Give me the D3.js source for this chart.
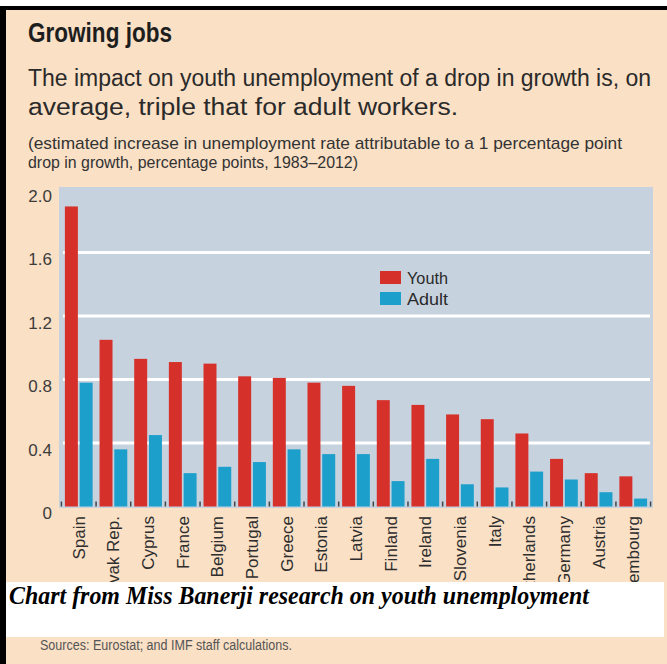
<!DOCTYPE html>
<html>
<head>
<meta charset="utf-8">
<script src="https://cdn.jsdelivr.net/npm/d3@7"></script>
<style>
  body { margin: 0; background: #fff; }
</style>
</head>
<body>
<svg id="mainsvg" width="667" height="664" font-family="'Liberation Sans', Arial, sans-serif"></svg>
<script>
const countries = ['Spain', 'Slovak Rep.', 'Cyprus', 'France', 'Belgium', 'Portugal', 'Greece', 'Estonia',
  'Latvia', 'Finland', 'Ireland', 'Slovenia', 'Italy', 'Netherlands', 'Germany', 'Austria', 'Luxembourg'];
const youth = [1.89, 1.05, 0.93, 0.91, 0.90, 0.82, 0.81, 0.78, 0.76, 0.67, 0.64, 0.58, 0.55, 0.46, 0.30, 0.21, 0.19];
const adult = [0.78, 0.36, 0.45, 0.21, 0.25, 0.28, 0.36, 0.33, 0.33, 0.16, 0.30, 0.14, 0.12, 0.22, 0.17, 0.09, 0.05];
const seriesNames = ['Youth', 'Adult'];
const yTicks = [0, 0.4, 0.8, 1.2, 1.6, 2.0];
const yTickLabels = ['0', '0.4', '0.8', '1.2', '1.6', '2.0'];

const title = 'Growing jobs';
const subtitle = ['The impact on youth unemployment of a drop in growth is, on',
  'average, triple that for adult workers.'];
const units = ['(estimated increase in unemployment rate attributable to a 1 percentage point',
  'drop in growth, percentage points, 1983\u20132012)'];
const caption = 'Chart from Miss Banerji research on youth unemployment';
const sources = 'Sources: Eurostat; and IMF staff calculations.';

const svg = d3.select('#mainsvg');
const width = +svg.attr('width');
const height = +svg.attr('height');
const colors = {Youth: '#d5312a', Adult: '#1c9fcb'};

// panel + black frame
svg.append('rect').attr('x', 6).attr('y', 10).attr('width', width - 6).attr('height', height - 10).attr('fill', '#fae0c5');
svg.append('rect').attr('x', 0).attr('y', 6).attr('width', width).attr('height', 4).attr('fill', '#000');
svg.append('rect').attr('x', 0).attr('y', 6).attr('width', 6).attr('height', height - 6).attr('fill', '#000');

// the original uses a condensed face, so text is squeezed to the measured width
function txt(str, x, y, size, opts = {}) {
  const t = svg.append('text').text(str)
    .attr('x', x).attr('y', y)
    .attr('font-size', size)
    .attr('fill', opts.fill || '#2a2a2a')
    .attr('font-weight', opts.weight || 'normal');
  if (opts.len) t.attr('textLength', opts.len).attr('lengthAdjust', 'spacingAndGlyphs');
  return t;
}

txt(title, 28, 42, 28, {weight: 'bold', fill: '#1e1e1e', len: 144});
txt(subtitle[0], 28, 86, 23, {len: 623, fill: '#2a2a2a'});
txt(subtitle[1], 28, 115, 23, {len: 430, fill: '#2a2a2a'});
txt(units[0], 28, 149, 17, {len: 594, fill: '#333'});
txt(units[1], 28, 168, 17, {len: 330, fill: '#333'});

// plot area
const plot = {left: 59, right: 653, top: 187, bottom: 508};
const zeroY = 506.5;

const xScale = d3.scaleBand()
  .domain(countries)
  .range([plot.left, plot.right])
  .paddingInner(0.2)
  .paddingOuter(0.17);

const xSub = d3.scaleBand()
  .domain(seriesNames)
  .range([0, xScale.bandwidth()])
  .paddingInner(0.12);

const yScale = d3.scaleLinear()
  .domain([0, 2])
  .range([zeroY, 189]);

svg.append('rect')
  .attr('x', plot.left).attr('y', plot.top)
  .attr('width', plot.right - plot.left).attr('height', plot.bottom - plot.top)
  .attr('fill', '#c7d2df');

// gridlines
svg.append('g').selectAll('line')
  .data(yTicks.filter(v => v > 0 && v < 2))
  .join('line')
  .attr('x1', plot.left + 4).attr('x2', plot.right - 3)
  .attr('y1', d => yScale(d)).attr('y2', d => yScale(d))
  .attr('stroke', '#fff').attr('stroke-width', 3);

// y axis labels
const yAxis = d3.axisLeft(yScale)
  .tickValues(yTicks)
  .tickSize(0)
  .tickPadding(0)
  .tickFormat((d, i) => yTickLabels[i]);
const yg = svg.append('g').attr('transform', 'translate(52,0)').call(yAxis)
  .attr('font-family', "'Liberation Sans', Arial, sans-serif")
  .attr('font-size', 17);
yg.select('.domain').remove();
yg.selectAll('text')
  .attr('fill', '#3c3c3c')
  .attr('dy', 12);

// bars
const rows = countries.map((c, i) => ({country: c, Youth: youth[i], Adult: adult[i]}));
const groups = svg.append('g').selectAll('g')
  .data(rows)
  .join('g')
  .attr('transform', d => `translate(${xScale(d.country)},0)`);

groups.selectAll('rect')
  .data(d => seriesNames.map(s => ({key: s, value: d[s]})))
  .join('rect')
  .attr('x', d => xSub(d.key))
  .attr('width', xSub.bandwidth())
  .attr('y', d => yScale(d.value))
  .attr('height', d => zeroY - yScale(d.value))
  .attr('fill', d => colors[d.key]);

// small ticks between groups
const step = xScale.step();
const bounds = countries.map(c => xScale(c) - step * xScale.paddingInner() / 2);
bounds.push(xScale(countries[countries.length - 1]) + xScale.bandwidth() + step * xScale.paddingInner() / 2);
svg.append('g').selectAll('line')
  .data(bounds)
  .join('line')
  .attr('x1', d => d).attr('x2', d => d)
  .attr('y1', zeroY - 5).attr('y2', zeroY)
  .attr('stroke', '#444').attr('stroke-width', 1.5);

// x labels, rotated
svg.append('g').selectAll('text')
  .data(countries)
  .join('text')
  .text(d => d)
  .attr('transform', d => `translate(${xScale(d) + xScale.bandwidth() / 2 + 6},516) rotate(-90)`)
  .attr('text-anchor', 'end')
  .attr('font-size', 17)
  .attr('fill', '#2e2e2e');

// legend
const legend = svg.append('g').attr('transform', 'translate(380,271)');
seriesNames.forEach((s, i) => {
  legend.append('rect')
    .attr('x', 0).attr('y', i * 21)
    .attr('width', 21).attr('height', 13)
    .attr('fill', colors[s]);
  legend.append('text')
    .text(s)
    .attr('x', 27).attr('y', i * 21 + 13)
    .attr('font-size', 17)
    .attr('textLength', 41).attr('lengthAdjust', 'spacingAndGlyphs')
    .attr('fill', '#2a2a2a');
});

// white caption box covering the label tails
svg.append('rect').attr('x', 6).attr('y', 582).attr('width', 658).attr('height', 55).attr('fill', '#fff');
svg.append('text')
  .text(caption)
  .attr('x', 9).attr('y', 604)
  .attr('font-family', "'Liberation Serif', 'Times New Roman', serif")
  .attr('font-style', 'italic').attr('font-weight', 'bold')
  .attr('font-size', 25)
  .attr('textLength', 580).attr('lengthAdjust', 'spacingAndGlyphs')
  .attr('fill', '#000');

txt(sources, 40, 650, 14, {len: 252, fill: '#555'});
</script>
</body>
</html>
